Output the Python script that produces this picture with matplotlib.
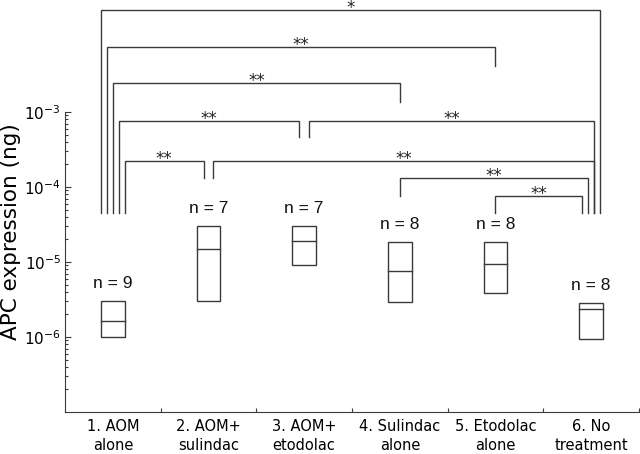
import matplotlib
matplotlib.use("Agg")
import matplotlib.pyplot as plt
from matplotlib.patches import Rectangle
import numpy as np

# ---- data ----
groups = ["1. AOM\nalone", "2. AOM+\nsulindac", "3. AOM+\netodolac",
          "4. Sulindac\nalone", "5. Etodolac\nalone", "6. No\ntreatment"]
box_low = [1.0e-6, 3.0e-6, 9.2e-6, 2.9e-6, 3.9e-6, 9.3e-7]
box_median = [1.62e-6, 1.48e-5, 1.92e-5, 7.5e-6, 9.4e-6, 2.38e-6]
box_high = [3.02e-6, 3.02e-5, 3.0e-5, 1.85e-5, 1.84e-5, 2.86e-6]
n_values = [9, 7, 7, 8, 8, 8]

# significance brackets: (group a, group b)
br_a = [1, 1, 1, 1, 3, 1, 2, 4, 5]
br_b = [6, 5, 4, 3, 6, 2, 6, 6, 6]
br_level = [2.27e-2, 7.36e-3, 2.42e-3, 7.66e-4, 7.66e-4, 2.24e-4, 2.24e-4, 1.31e-4, 7.59e-5]
br_end_a = [4.5e-5, 4.5e-5, 4.5e-5, 4.5e-5, 4.64e-4, 4.5e-5, 1.32e-4, 7.59e-5, 4.5e-5]
br_end_b = [4.5e-5, 4.14e-3, 1.36e-3, 4.64e-4, 4.5e-5, 1.32e-4, 4.5e-5, 4.5e-5, 4.5e-5]
br_label = ["*", "**", "**", "**", "**", "**", "**", "**", "**"]
# horizontal leg offsets (pixels) so nested brackets do not overlap
br_off_a = [-12, -6, 0, 6, 5, 12, 5, 0, 0]
br_off_b = [9, 0, 0, -5, 3, -5, 3, -3, -9]

LC = "#3a3a3a"

fig = plt.figure(figsize=(6.4, 4.54), dpi=100)
W, H = 640, 454
ax = fig.add_axes([65 / W, 42 / H, 574 / W, 412 / H])
ax.set_yscale("log")
ax.set_xlim(0.5, 6.5)
ax.set_ylim(1e-7, 10 ** (-3 + 112 / 75))
px = 6.0 / 574  # data units per pixel in x

# boxes
bw = 0.25
for i in range(len(groups)):
    x = i + 1
    ax.add_patch(Rectangle((x - bw / 2, box_low[i]), bw, box_high[i] - box_low[i],
                           fill=False, edgecolor=LC, lw=1.0))
    ax.plot([x - bw / 2, x + bw / 2], [box_median[i]] * 2, color=LC, lw=1.0)
    ax.annotate(f"n = {n_values[i]}", (x, box_high[i]), xytext=(0, 12.7),
                textcoords="offset points", ha="center", va="center",
                fontsize=12.5, family="Liberation Sans", color="#111111")

# brackets
for a, b, lev, ea, eb, lab, oa, ob in zip(br_a, br_b, br_level, br_end_a, br_end_b,
                                          br_label, br_off_a, br_off_b):
    xa = a + oa * px
    xb = b + ob * px
    ax.plot([xa, xa, xb, xb], [ea, lev, lev, eb], color=LC, lw=1.0,
            clip_on=False, solid_joinstyle="miter")
    ax.annotate(lab, ((xa + xb) / 2, lev), xytext=(0, -2.2),
                textcoords="offset points", ha="center", va="baseline",
                fontsize=12, color="#222222", annotation_clip=False)

# axes styling
for s in ["top", "right"]:
    ax.spines[s].set_visible(False)
ax.spines["left"].set_bounds(1e-7, 1e-3)
ax.spines["left"].set_color(LC)
ax.spines["bottom"].set_color(LC)

ax.set_yticks([1e-6, 1e-5, 1e-4, 1e-3])
ax.set_yticklabels([r"$10^{-6}$", r"$10^{-5}$", r"$10^{-4}$", r"$10^{-3}$"])
minor = [m * 10.0 ** e for e in range(-7, -3) for m in range(2, 10)]
ax.set_yticks(minor, minor=True)
ax.yaxis.set_minor_formatter(matplotlib.ticker.NullFormatter())
ax.tick_params(axis="y", which="major", direction="in", length=4.5, width=0.8,
               color=LC, labelsize=11, pad=3)
ax.tick_params(axis="y", which="minor", direction="in", length=2.5, width=0.8, color=LC)

ax.set_xticks(np.arange(1, len(groups) + 1))
ax.set_xticklabels(groups, fontsize=10.5, linespacing=1.3)
ax.set_xticks(np.arange(1.5, len(groups) + 1, 1.0), minor=True)
ax.tick_params(axis="x", which="major", length=0, pad=5)
ax.tick_params(axis="x", which="minor", direction="in", length=2.8, width=0.8, color=LC)

fig.text(11 / W, 1 - 232 / H, "APC expression (ng)", rotation=90, ha="center",
         va="center", fontsize=15.5)

fig.savefig("out.png", dpi=100)
